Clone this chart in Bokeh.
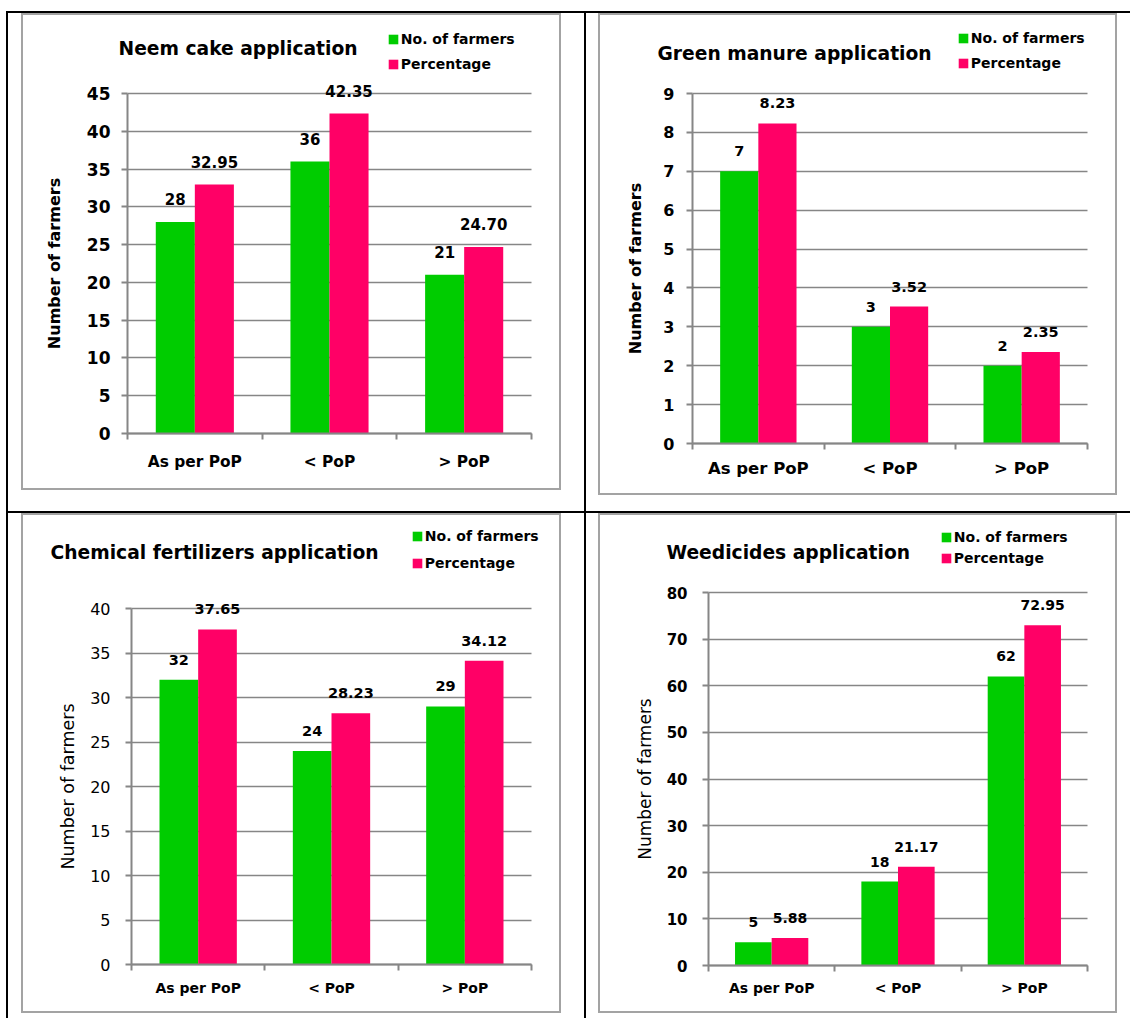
from bokeh.plotting import figure
from bokeh.models import (ColumnDataSource, Range1d, LinearAxis,
                          FixedTicker, SingleIntervalTicker, Label)
from bokeh.transform import dodge
from bokeh.layouts import row, column
from bokeh.core.properties import value
from bokeh.embed import file_html
from bokeh.resources import INLINE

# ---------------- data ----------------
categories = ["As per PoP", "< PoP", "> PoP"]

neem_title = "Neem cake application"
neem_farmers = [28, 36, 21]
neem_pct = [32.95, 42.35, 24.70]

green_title = "Green manure application"
green_farmers = [7, 3, 2]
green_pct = [8.23, 3.52, 2.35]

chem_title = "Chemical fertilizers application"
chem_farmers = [32, 24, 29]
chem_pct = [37.65, 28.23, 34.12]

weed_title = "Weedicides application"
weed_farmers = [5, 18, 62]
weed_pct = [5.88, 21.17, 72.95]

series_names = ["No. of farmers", "Percentage"]
y_title = "Number of farmers"

# ---------------- style ----------------
FONT = "DejaVu Sans"
GREEN = "#00CC00"
PINK = "#FF0066"
AXIS_GRAY = "#868686"
FRAME_GRAY = "#a3a3a3"
BAR_W = 0.29
LEG_ROW_H = 16     # height of a legend row (text height)


def make_chart(title, farmers, pct, y_max, y_step, c):
    n = len(categories)
    slots = [i + 0.5 for i in range(n)]          # centre of each category slot
    bounds = list(range(n + 1))                  # category boundaries
    W = c["left"] + c["fw"] + c["right"]
    H = c["top"] + c["fh"] + c["bottom"]
    # the frame fills the whole canvas; ranges are widened so the data area sits
    # at the wanted pixel box and titles / legend / labels are not clipped
    xs = n / c["fw"]
    ys = y_max / c["fh"]
    p = figure(x_range=Range1d(-c["left"] * xs, n + c["right"] * xs),
               y_range=Range1d(-c["bottom"] * ys, y_max + c["top"] * ys),
               width=W, height=H,
               min_border_left=0, min_border_right=0, min_border_top=0, min_border_bottom=0,
               output_backend="svg", toolbar_location=None, tools="",
               x_axis_location=None, y_axis_location="left")
    p.background_fill_color = "white"
    p.border_fill_color = "white"
    p.outline_line_color = None

    # y axis
    ya = p.yaxis[0]
    ya.fixed_location = 0
    ya.bounds = (0, y_max)
    ya.ticker = SingleIntervalTicker(interval=y_step)
    ya.axis_line_color = AXIS_GRAY
    ya.axis_line_width = 2
    ya.major_tick_line_color = AXIS_GRAY
    ya.major_tick_line_width = 2
    ya.major_tick_out = 6
    ya.major_tick_in = 0
    ya.minor_tick_line_color = None
    ya.major_label_text_font = FONT
    ya.major_label_text_font_size = c["ytick_size"]
    ya.major_label_text_font_style = c["ytick_style"]
    ya.major_label_text_color = "black"
    ya.major_label_standoff = c["ytick_standoff"]
    ya.axis_label = y_title
    ya.axis_label_text_font = FONT
    ya.axis_label_text_font_size = c["ytitle_size"]
    ya.axis_label_text_font_style = c["ytitle_style"]
    ya.axis_label_text_color = "black"
    ya.axis_label_standoff = c["ytitle_standoff"]

    p.ygrid.grid_line_color = AXIS_GRAY
    p.ygrid.grid_line_width = 1.5
    p.ygrid.bounds = (0, y_max)
    p.ygrid.cross_bounds = (0, n)
    p.xgrid.visible = False

    # x axis: labels at category centres, tick marks at category boundaries
    xa = LinearAxis(ticker=FixedTicker(ticks=slots, minor_ticks=bounds),
                    major_label_overrides={s: cat for s, cat in zip(slots, categories)},
                    fixed_location=0, bounds=(0, n))
    xa.axis_line_color = AXIS_GRAY
    xa.axis_line_width = 2
    xa.major_tick_line_color = None
    xa.major_tick_out = 0
    xa.major_tick_in = 0
    xa.minor_tick_line_color = AXIS_GRAY
    xa.minor_tick_line_width = 2
    xa.minor_tick_out = 6
    xa.minor_tick_in = 0
    xa.major_label_text_font = FONT
    xa.major_label_text_font_size = c["xlab_size"]
    xa.major_label_text_font_style = "bold"
    xa.major_label_text_color = "black"
    xa.major_label_standoff = c["xlab_standoff"]
    p.add_layout(xa, "below")

    src = ColumnDataSource(dict(
        slot=slots, cat=categories, farmers=farmers, pct=pct,
        farmers_lbl=[f"{v:d}" for v in farmers],
        pct_lbl=[f"{v:.2f}" for v in pct],
    ))
    xg = dodge("slot", -BAR_W / 2)
    xp = dodge("slot", BAR_W / 2)
    p.vbar(x=xg, top="farmers", width=BAR_W, source=src, fill_color=GREEN,
           line_color=None, legend_label=series_names[0])
    p.vbar(x=xp, top="pct", width=BAR_W, source=src, fill_color=PINK,
           line_color=None, legend_label=series_names[1])
    for xx, col in ((xg, "farmers"), (xp, "pct")):
        p.text(x=xx, y=col, text=col + "_lbl", source=src,
               text_align="center", text_baseline="middle", y_offset=-c["dl_off"],
               text_font=value(FONT), text_font_style="bold",
               text_font_size=value(c["dl_size"]), text_color="black")

    # chart title (positions in canvas pixels, measured from the top-left)
    p.add_layout(Label(x=c["title_x"], y=H - c["title_cy"], x_units="screen", y_units="screen",
                       text=title, text_font=FONT, text_font_style="bold",
                       text_font_size="18.7px", text_color="black",
                       text_align="left", text_baseline="middle"))

    lg = p.legend[0]
    leg_bottom = c["leg_cy"] - 6 + 2 * LEG_ROW_H + c["leg_sp"]
    lg.location = (c["leg_x"] - 1.2, H - leg_bottom)
    lg.border_line_color = None
    lg.background_fill_alpha = 0
    lg.padding = 0
    lg.margin = 0
    lg.spacing = c["leg_sp"]
    lg.glyph_width = 12
    lg.glyph_height = 12
    lg.label_height = 12
    lg.label_standoff = 2
    lg.label_text_font = FONT
    lg.label_text_font_style = "bold"
    lg.label_text_font_size = "14px"
    lg.label_text_color = "black"
    return p


# pixel layout of each chart canvas (data box margins, title & legend anchors)
cfg_tl = dict(left=104, fw=404, right=28, top=78, fh=340, bottom=55,
              ytick_size="17px", ytick_style="bold", ytick_standoff=11,
              ytitle_size="16px", ytitle_style="bold", ytitle_standoff=20,
              xlab_size="15.4px", xlab_standoff=13, dl_size="15px", dl_off=23,
              title_x=95, title_cy=33, leg_x=365, leg_cy=22.3, leg_sp=9)
cfg_tr = dict(left=92, fw=395, right=28, top=78, fh=350, bottom=50,
              ytick_size="16px", ytick_style="bold", ytick_standoff=12,
              ytitle_size="16px", ytitle_style="bold", ytitle_standoff=15,
              xlab_size="16.5px", xlab_standoff=9, dl_size="14.5px", dl_off=20,
              title_x=57, title_cy=38, leg_x=358, leg_cy=21, leg_sp=9)
cfg_bl = dict(left=108, fw=400, right=28, top=93, fh=356, bottom=47,
              ytick_size="16px", ytick_style="normal", ytick_standoff=15,
              ytitle_size="17.5px", ytitle_style="normal", ytitle_standoff=9,
              xlab_size="14px", xlab_standoff=9, dl_size="14.5px", dl_off=20,
              title_x=27, title_cy=37, leg_x=389, leg_cy=19, leg_sp=11)
cfg_br = dict(left=108, fw=379, right=28, top=77, fh=373, bottom=46,
              ytick_size="15px", ytick_style="bold", ytick_standoff=15,
              ytitle_size="17px", ytitle_style="normal", ytitle_standoff=9,
              xlab_size="14px", xlab_standoff=8, dl_size="14px", dl_off=20,
              title_x=66, title_cy=37, leg_x=341, leg_cy=20, leg_sp=5)

p1 = make_chart(neem_title, neem_farmers, neem_pct, 45, 5, cfg_tl)
p2 = make_chart(green_title, green_farmers, green_pct, 9, 1, cfg_tr)
p3 = make_chart(chem_title, chem_farmers, chem_pct, 40, 5, cfg_bl)
p4 = make_chart(weed_title, weed_farmers, weed_pct, 80, 10, cfg_br)


def cell(fig, pad):
    framed = column(fig, styles={"border": f"2px solid {FRAME_GRAY}"})
    return column(framed, styles={"background-color": "white", "padding": pad})


top = row(cell(p1, "0px 23px 21px 13px"), cell(p2, "0px 13px 16px 12px"), spacing=2)
bottom = row(cell(p3, "0px 23px 5px 13px"), cell(p4, "0px 13px 5px 12px"), spacing=2)
page = column(top, bottom, spacing=2,
              styles={"background-color": "black", "padding": "2px 0px 0px 2px",
                      "margin": "11px 0px 0px 6px"})

open("out.html", "w").write(file_html(page, INLINE, "Charts"))
